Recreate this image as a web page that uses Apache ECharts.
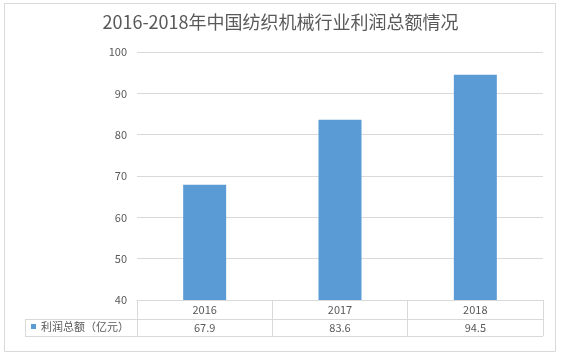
<!DOCTYPE html>
<html>
<head>
<meta charset="utf-8">
<script src="https://cdn.jsdelivr.net/npm/echarts@6/dist/echarts.min.js"></script>
<style>
html,body{margin:0;padding:0;background:#fff;}
#chart{width:561px;height:356px;}
</style>
</head>
<body>
<div id="chart"></div>
<script>
var titleText = '2016-2018年中国纺织机械行业利润总额情况';
var seriesName = '利润总额（亿元）';
var categories = ['2016', '2017', '2018'];
var values = [67.9, 83.6, 94.5];
var yTicks = [40, 50, 60, 70, 80, 90, 100];

var chart = echarts.init(document.getElementById('chart'), null, {renderer: 'canvas'});
var txt = '#595959';
var grid = '#D9D9D9';
var font = '"Noto Sans CJK SC", "Microsoft YaHei", sans-serif';

var L = 137, R = 543, T = 52, B = 300;

chart.setOption({
  backgroundColor: '#fff',
  textStyle: {fontFamily: font},
  title: {
    text: titleText,
    left: 'center',
    top: 8,
    textStyle: {fontSize: 18, fontWeight: 'normal', color: txt, fontFamily: font}
  },
  legend: {
    data: [seriesName],
    left: 31,
    top: 321,
    padding: 0,
    itemWidth: 5,
    itemHeight: 5,
    icon: 'rect',
    textStyle: {fontSize: 11, color: txt, fontFamily: font, padding: [0, 0, 0, 0]}
  },
  grid: {left: L, right: 561 - R, top: T, bottom: 356 - B, containLabel: false},
  xAxis: [{
    type: 'category',
    data: categories,
    position: 'bottom',
    axisLine: {show: true, lineStyle: {color: grid, width: 1}},
    axisTick: {show: true, length: 36, inside: false, lineStyle: {color: grid}},
    axisLabel: {margin: 4, fontSize: 11, color: txt, fontFamily: font}
  }, {
    type: 'category',
    data: values.map(function (v) { return v.toFixed(1); }),
    position: 'bottom',
    axisLine: {show: false},
    axisTick: {show: false},
    axisLabel: {margin: 22, fontSize: 11, color: txt, fontFamily: font}
  }],
  yAxis: {
    type: 'value',
    min: yTicks[0],
    max: yTicks[yTicks.length - 1],
    interval: yTicks[1] - yTicks[0],
    axisLine: {show: false},
    axisTick: {show: false},
    axisLabel: {margin: 10, fontSize: 11, color: txt, fontFamily: font},
    splitLine: {lineStyle: {color: grid, width: 1}}
  },
  series: [{
    name: seriesName,
    type: 'bar',
    data: values,
    barWidth: 43,
    itemStyle: {color: '#5B9BD5'},
    silent: true
  }],
  graphic: [
    {type: 'rect', shape: {x: 4.5, y: 3.5, width: 551, height: 348}, style: {fill: 'none', stroke: grid, lineWidth: 1}, z: -1},
    {type: 'line', shape: {x1: 25, y1: 319.5, x2: 543, y2: 319.5}, style: {stroke: grid, lineWidth: 1}},
    {type: 'line', shape: {x1: 25, y1: 336.5, x2: 543, y2: 336.5}, style: {stroke: grid, lineWidth: 1}},
    {type: 'line', shape: {x1: 25.5, y1: 319, x2: 25.5, y2: 337}, style: {stroke: grid, lineWidth: 1}}
  ]
});
</script>
</body>
</html>
